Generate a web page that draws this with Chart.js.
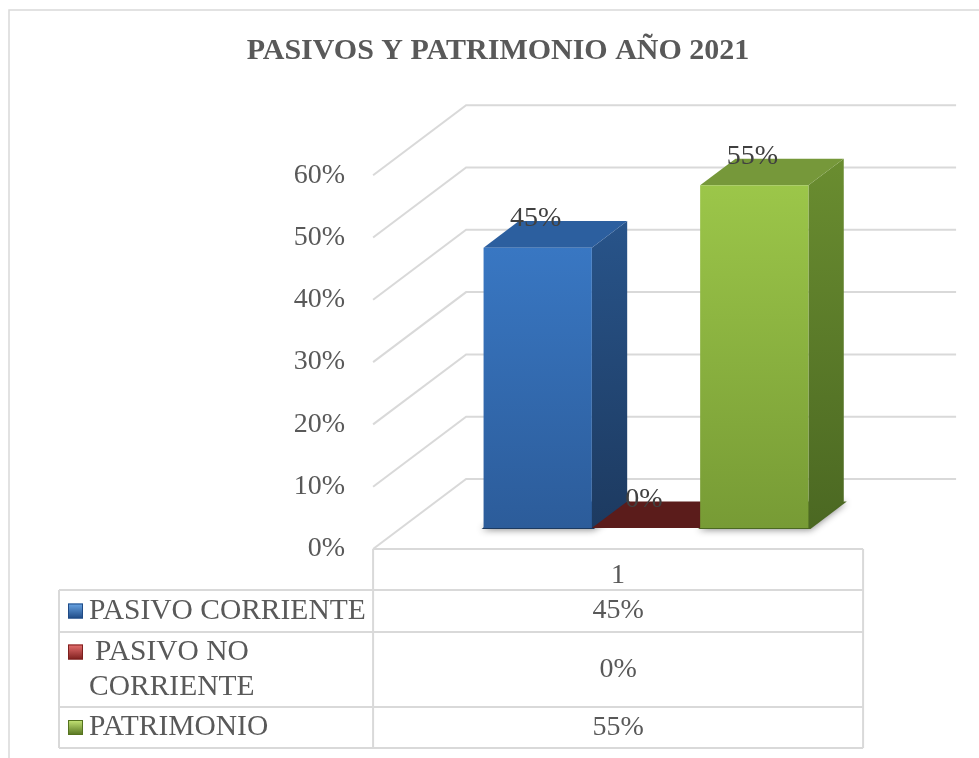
<!DOCTYPE html>
<html><head><meta charset="utf-8">
<script src="https://cdn.jsdelivr.net/npm/chart.js@4.4.1/dist/chart.umd.min.js"></script>
<style>html,body{margin:0;padding:0;background:#fff;}canvas{display:block;}</style>
</head><body>
<canvas id="c" width="979" height="758"></canvas>
<script>
// ---- data ----
const TITLE = 'PASIVOS Y PATRIMONIO AÑO 2021';
const categories = ['1'];
const seriesNames = ['PASIVO CORRIENTE', 'PASIVO NO CORRIENTE', 'PATRIMONIO'];
const pasivoCorriente = [0.45];
const pasivoNoCorriente = [0.00];
const patrimonio = [0.55];
const yTicks = [0, 0.1, 0.2, 0.3, 0.4, 0.5, 0.6];

// ---- styles ----
const FONT = '"Liberation Serif", "Times New Roman", serif';
const TEXT = '#595959';
const GRID = '#d9d9d9';
const DX = 93, DY = 70, F0 = 0.3, FD = 0.38; // oblique 3D projection
const palette = [
  {frontTop:'#3d80d0', frontBot:'#2c5c9a', sideTop:'#28548a', sideBot:'#1d3a60', top:'#2c5f9f', swA:'#6aa6e6', swB:'#1f4a85'},
  {frontTop:'#c0504d', frontBot:'#8c2e2b', sideTop:'#6e2220', sideBot:'#4f1715', top:'#5b1c1b', swA:'#e87070', swB:'#7d1f1d'},
  {frontTop:'#9fca4b', frontBot:'#779b35', sideTop:'#6a8d30', sideBot:'#4b6822', top:'#76983a', swA:'#c6e678', swB:'#55731f'}
];
const pct = v => Math.round(v * 100) + '%';

function frontGrad(p) {
  return (ctx) => {
    const ch = ctx.chart, a = ch.chartArea;
    if (!a) return p.frontTop;
    const g = ch.ctx.createLinearGradient(0, a.top, 0, a.bottom);
    g.addColorStop(0, p.frontTop); g.addColorStop(1, p.frontBot);
    return g;
  };
}

const seriesData = [pasivoCorriente, pasivoNoCorriente, patrimonio];

const threeD = {
  id: 'threeD',
  beforeDraw(chart) {
    const c = chart.ctx;
    c.save();
    c.fillStyle = '#fff'; c.fillRect(0, 0, chart.width, chart.height);
    c.strokeStyle = GRID; c.lineWidth = 1.5;
    c.beginPath(); c.moveTo(9, chart.height); c.lineTo(9, 10); c.lineTo(chart.width, 10); c.stroke();
    c.restore();
  },
  beforeDatasetsDraw(chart) {
    const c = chart.ctx, a = chart.chartArea, ys = chart.scales.y;
    c.save();
    c.strokeStyle = GRID; c.lineWidth = 2;
    ys.ticks.forEach(t => {
      const yb = ys.getPixelForValue(t.value);
      c.beginPath();
      c.moveTo(a.left - F0 * DX, yb + F0 * DY);
      c.lineTo(a.left + (1 - F0) * DX, yb - (1 - F0) * DY);
      c.lineTo(a.right + (1 - F0) * DX, yb - (1 - F0) * DY);
      c.stroke();
    });
    const dx = FD * DX, dy = FD * DY;
    // shadows
    chart.data.datasets.forEach((ds, i) => {
      const el = chart.getDatasetMeta(i).data[0];
      if (!el || Math.abs(el.base - el.y) < 1) return;
      const l = el.x - el.width / 2, r = el.x + el.width / 2, b = el.base;
      c.save();
      c.shadowColor = 'rgba(0,0,0,0.45)'; c.shadowBlur = 7; c.shadowOffsetX = 0; c.shadowOffsetY = 1;
      c.fillStyle = palette[i].sideBot;
      c.beginPath(); c.moveTo(l - 2, b + 1); c.lineTo(r + 2, b + 1); c.lineTo(r + dx + 3, b - dy); c.lineTo(l + dx, b - dy); c.closePath(); c.fill();
      c.restore();
    });
    // side and top faces
    chart.data.datasets.forEach((ds, i) => {
      const el = chart.getDatasetMeta(i).data[0];
      if (!el) return;
      const p = palette[i];
      const l = el.x - el.width / 2, r = el.x + el.width / 2, t = el.y, b = el.base;
      if (b - t > 0.5) {
        const g = c.createLinearGradient(0, t - dy, 0, b);
        g.addColorStop(0, p.sideTop); g.addColorStop(1, p.sideBot);
        c.fillStyle = g;
        c.beginPath(); c.moveTo(r, t); c.lineTo(r + dx, t - dy); c.lineTo(r + dx, b - dy); c.lineTo(r, b); c.closePath(); c.fill();
      }
      c.fillStyle = p.top;
      c.beginPath(); c.moveTo(l, t); c.lineTo(r, t); c.lineTo(r + dx, t - dy); c.lineTo(l + dx, t - dy); c.closePath(); c.fill();
    });
    c.restore();
  },
  afterDatasetsDraw(chart) {
    const c = chart.ctx, dy = FD * DY;
    c.save();
    c.font = '28px ' + FONT; c.fillStyle = '#404040'; c.textAlign = 'center'; c.textBaseline = 'middle';
    chart.data.datasets.forEach((ds, i) => {
      const el = chart.getDatasetMeta(i).data[0];
      if (!el) return;
      c.fillText(pct(ds.data[0]), el.x - 2, el.y - dy - 2);
    });
    c.restore();
  },
  afterDraw(chart) {
    const c = chart.ctx, a = chart.chartArea, ys = chart.scales.y;
    const fl = a.left - F0 * DX, fr = a.right - F0 * DX, ft = ys.getPixelForValue(0) + F0 * DY;
    const tl = 59;
    const rows = [41, 42, 75, 41];
    const ry = [ft]; rows.forEach((h, k) => ry.push(ry[k] + h));
    c.save();
    c.strokeStyle = GRID; c.lineWidth = 2;
    c.beginPath();
    c.moveTo(fl, ry[0]); c.lineTo(fr, ry[0]);
    for (let k = 1; k < ry.length; k++) { c.moveTo(tl, ry[k]); c.lineTo(fr, ry[k]); }
    c.moveTo(fl, ry[0]); c.lineTo(fl, ry[4]);
    c.moveTo(fr, ry[0]); c.lineTo(fr, ry[4]);
    c.moveTo(tl, ry[1]); c.lineTo(tl, ry[4]);
    c.stroke();
    c.fillStyle = TEXT; c.textBaseline = 'middle';
    const maxW = 284, lh = 35;
    chart.data.datasets.forEach((ds, i) => {
      const top = ry[i + 1], h = rows[i + 1];
      c.font = '29.5px ' + FONT;
      // wrap label
      const words = ds.label.split(' ');
      const lines = []; let cur = '';
      words.forEach(w => {
        const test = cur ? cur + ' ' + w : w;
        if (c.measureText(test).width > maxW && cur) { lines.push(cur); cur = w; } else cur = test;
      });
      lines.push(cur);
      const cy = top + h / 2 - (lines.length - 1) * lh / 2;
      c.textAlign = 'left';
      lines.forEach((ln, k) => c.fillText(ln, (lines.length > 1 && k === 0) ? 95 : 89, cy + k * lh));
      // swatch
      const p = palette[i];
      const sx = 68, sy = cy - 7.5, s = 15;
      const g = c.createLinearGradient(0, sy, 0, sy + s);
      g.addColorStop(0, p.swA); g.addColorStop(1, p.swB);
      c.fillStyle = g; c.fillRect(sx, sy, s, s);
      c.strokeStyle = p.swB; c.lineWidth = 1; c.strokeRect(sx + 0.5, sy + 0.5, s - 1, s - 1);
      c.fillStyle = TEXT;
      // value
      c.font = '28px ' + FONT; c.textAlign = 'center';
      c.fillText(pct(ds.data[0]), (fl + fr) / 2, top + h / 2);
    });
    c.restore();
  }
};

new Chart(document.getElementById('c'), {
  type: 'bar',
  data: {
    labels: categories,
    datasets: seriesNames.map((n, i) => ({
      label: n,
      data: seriesData[i],
      backgroundColor: frontGrad(palette[i]),
      borderWidth: 0,
      categoryPercentage: 0.663,
      barPercentage: 1.0
    }))
  },
  options: {
    responsive: false,
    animation: false,
    events: [],
    layout: { padding: { left: 105, right: 88, top: 0, bottom: 160 } },
    plugins: {
      legend: { display: false },
      tooltip: { enabled: false },
      title: {
        display: true, text: TITLE, color: TEXT,
        font: { family: FONT, size: 30, weight: 'bold' },
        padding: { top: 33, bottom: 85.2 }
      }
    },
    scales: {
      x: {
        grid: { display: false, drawTicks: false },
        border: { display: false },
        ticks: { color: TEXT, font: { family: FONT, size: 28 }, padding: 31, labelOffset: -28 },
        afterFit: s => { s.height = 70; }
      },
      y: {
        min: 0, max: 0.6,
        grid: { display: false, drawTicks: false },
        border: { display: false },
        afterBuildTicks: s => { s.ticks = yTicks.map(v => ({ value: v })); },
        ticks: { color: TEXT, font: { family: FONT, size: 28 }, padding: 56, labelOffset: 21, callback: v => pct(v) },
        afterFit: s => { s.width = 296; }
      }
    }
  },
  plugins: [threeD]
});
</script>
</body></html>
